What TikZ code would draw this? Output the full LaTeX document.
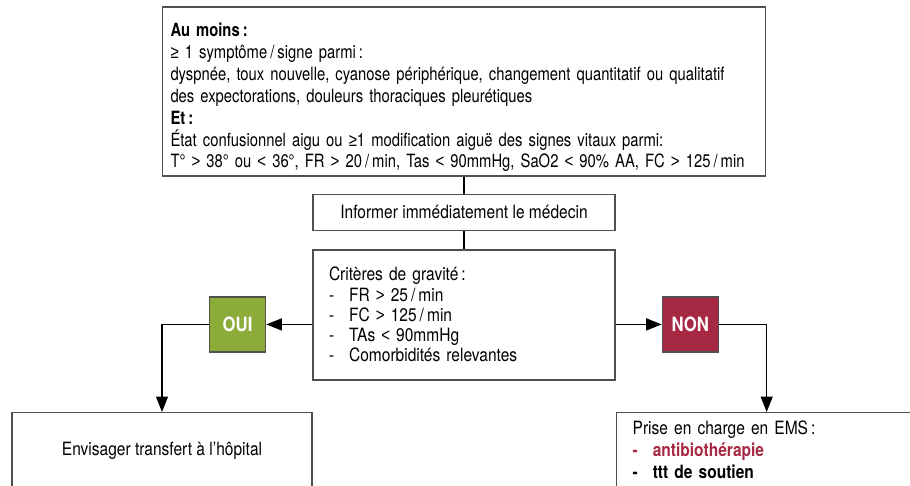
\documentclass[tikz,border=0pt]{standalone}
\usepackage{fontspec}
\setmainfont{TeX Gyre Heros}[FakeStretch=0.85]
\newfontfamily\narrow{TeX Gyre Heros}[FakeStretch=0.81]
\newfontfamily\symb{Liberation Sans}[FakeStretch=0.82]
\usetikzlibrary{arrows.meta, positioning, calc}
\definecolor{ouigreen}{RGB}{140,172,58}
\definecolor{nonred}{RGB}{166,40,66}
\definecolor{edge}{RGB}{80,80,80}
\newcommand{\itm}{\makebox[1.1em][l]{-}}
\newcommand{\gtr}{{\symb >}}
\newcommand{\lsr}{{\symb <}}
\tikzset{
  box/.style={draw=edge, line width=1pt, fill=white, inner sep=0pt, align=left},
  yesno/.style={draw=edge, line width=1pt, fill=#1, text=white,
    font=\fontsize{14}{16}\selectfont\bfseries,
    minimum width=1.4cm, minimum height=1.375cm, inner sep=0pt},
  arr/.style={-{Triangle[length=11pt, width=8.5pt]}, line width=1pt},
  link/.style={line width=1pt},
}

\begin{document}
\begin{tikzpicture}[font=\fontsize{13}{15.6}\selectfont]
    \useasboundingbox (0,0) rectangle (22.75,-12.125);
    \clip (0,0) rectangle (22.75,-12.125);
    \node[box, minimum width=15.075cm, minimum height=4.225cm, text width=14.675cm,
      font=\fontsize{13}{15.6}\selectfont\narrow]
      (crit0) at (11.6,-2.2875) {\rule{0pt}{18pt}\textbf{Au moins\,:}\\
      {\symb ≥} 1 symptôme\,/\,signe parmi\,:\\
      dyspnée, toux nouvelle, cyanose périphérique, changement quantitatif ou qualitatif\\
      des expectorations, douleurs thoraciques pleurétiques\\
      \textbf{Et\,:}\\
      État confusionnel aigu ou {\symb ≥}1 modification aiguë des signes vitaux parmi:\\
      \mbox{T° \gtr{} 38° ou \lsr{} 36°, FR \gtr{} 20\,/\,min, Tas \lsr{} 90mmHg, SaO2 \lsr{} 90\% AA, FC \gtr{} 125\,/\,min}};
    \node[box, align=center, minimum width=7.55cm, minimum height=0.9cm, below=0.425cm of crit0]
      (info) {Informer immédiatement le médecin};
    \node[box, minimum width=7.55cm, minimum height=3.25cm, text width=6.75cm, below=0.45cm of info,
      font=\fontsize{13}{14.4}\selectfont]
      (grav) {Critères de gravité\,:\\
      \itm FR \gtr{} 25\,/\,min\\
      \itm FC \gtr{} 125\,/\,min\\
      \itm TAs \lsr{} 90mmHg\\
      \itm Comorbidités relevantes};
    \node[yesno=ouigreen, left=1.15cm of grav.west, yshift=-0.24cm] (oui) {OUI};
    \node[yesno=nonred, right=1.15cm of grav.east, yshift=-0.24cm] (non) {NON};
    \node[box, align=center, anchor=north, minimum width=7.5cm, minimum height=1.9cm]
      (hosp) at (4.05,-10.3) {Envisager transfert à l’hôpital};
    \node[box, anchor=north west, minimum width=7.5cm, text width=6.7cm,
      inner xsep=0.4cm, inner ysep=0.2cm]
      (ems) at (15.4,-10.3) {Prise en charge en EMS\,:\\
      \textcolor{nonred}{\textbf{\itm antibiothérapie}}\\
      \textbf{\itm ttt de soutien}\\[20pt]\mbox{}};
    \draw[link] (crit0) -- (info);
    \draw[link] (info) -- (grav);
    \draw[arr] (grav.west |- oui) -- (oui);
    \draw[arr] (grav.east |- non) -- (non);
    \draw[arr] (oui) -| (hosp);
    \draw[arr] (non) -| (ems);
  \end{tikzpicture}
\end{document}
